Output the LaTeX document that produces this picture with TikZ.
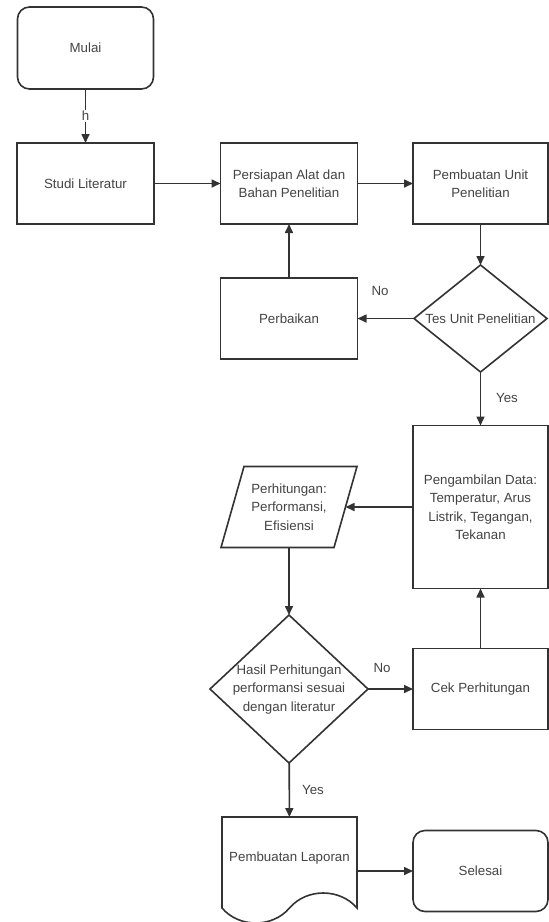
\documentclass[tikz,border=0pt]{standalone}
\usepackage{fontspec}
\setmainfont{Liberation Sans}
\usetikzlibrary{shapes.geometric,arrows.meta}
\definecolor{ln}{HTML}{333333}
\definecolor{tx}{HTML}{444444}
\begin{document}
\begin{tikzpicture}[x=1pt,y=-1pt,
  every node/.style={font=\fontsize{13.3}{18.5}\selectfont, text=tx, inner sep=0pt, outer sep=0pt},
  box/.style={draw=ln, line width=1.6pt, minimum width=135pt, minimum height=81pt, align=center},
  rbox/.style={box, rounded corners=12pt},
  dia/.style={draw=ln, line width=1.6pt, diamond},
  shapeline/.style={draw=ln, line width=1.6pt},
  conn/.style={draw=ln, line width=1.6pt, -{Triangle[length=9pt,width=8pt]}},
  lbl/.style={font=\fontsize{13.3}{15}\selectfont},
]
\fill[white] (0,0) rectangle (549,922);
\useasboundingbox (0,0) rectangle (549,922);

% nodes
\node[rbox, minimum width=136pt, minimum height=82pt, text depth=-8pt] (mulai) at (85.5,48) {Mulai};
\node[box, minimum width=137pt] (studi) at (85.5,183.5) {Studi Literatur};
\node[box, minimum width=137pt] (pers) at (289,183.5) {Persiapan Alat dan\\Bahan Penelitian};
\node[box] (pemb) at (480.5,183.5) {Pembuatan Unit\\Penelitian};
\node[dia, minimum width=133pt, minimum height=107pt] (tes) at (480.5,318.5) {\makebox[0pt]{Tes Unit Penelitian}};
\node[box, minimum width=137pt] (perb) at (289,318.5) {Perbaikan};
\node[box, minimum height=163pt] (peng) at (480.5,507) {Pengambilan Data:\\Temperatur, Arus\\Listrik, Tegangan,\\Tekanan};
\node[minimum width=136pt, minimum height=81pt, align=center] (perh) at (289,507) {Perhitungan:\\Performansi,\\Efisiensi};
\draw[shapeline] (perh.south west) -- ([xshift=-23pt]perh.south east) -- (perh.north east) -- ([xshift=23pt]perh.north west) -- cycle;
\coordinate (perhR) at ([xshift=-11.5pt]perh.east);
\node[dia, minimum width=158pt, minimum height=148pt] (hasil) at (289,689) {\makebox[0pt]{\begin{tabular}{@{}c@{}}Hasil Perhitungan\\performansi sesuai\\dengan literatur\end{tabular}}};
\node[box] (cek) at (480.5,689) {Cek Perhitungan};
\node[minimum width=135pt, minimum height=82pt] (lap) at (289.5,858) {Pembuatan Laporan};
\draw[shapeline] (lap.south west) -- (lap.north west) -- (lap.north east) -- ([yshift=-9pt]lap.south east)
  .. controls ([xshift=-17pt,yshift=11pt]lap.south east) and ([xshift=17pt,yshift=11pt]lap.south) .. ([yshift=-9pt]lap.south)
  .. controls ([xshift=-17pt,yshift=-29pt]lap.south) and ([xshift=17pt,yshift=-29pt]lap.south west) .. ([yshift=-9pt]lap.south west) -- cycle;
\node[rbox] (sel) at (480.5,871) {Selesai};

% labels
\node[lbl] (no1) at (380,291) {No};
\node[lbl] (yes1) at (507,398) {Yes};
\node[lbl] (no2) at (382,668) {No};
\node[lbl] (yes2) at (313,790) {Yes};

% connectors
\draw[conn] (mulai) -- node[lbl, fill=white, inner sep=1.5pt] (hlab) {h} (studi);
\draw[conn] (studi) -- (pers);
\draw[conn] (pers) -- (pemb);
\draw[conn] (pemb) -- (tes);
\draw[conn] (tes) -- (perb);
\draw[conn] (perb) -- (pers);
\draw[conn] (tes) -- (peng);
\draw[conn] (peng.west) -- (perhR);
\draw[conn] (perh) -- (hasil);
\draw[conn] (hasil) -- (cek);
\draw[conn] (cek) -- (peng);
\draw[conn] (hasil) -- (lap);
\draw[conn] ([yshift=-13pt]lap.east) -- (sel.west);
\end{tikzpicture}
\end{document}
